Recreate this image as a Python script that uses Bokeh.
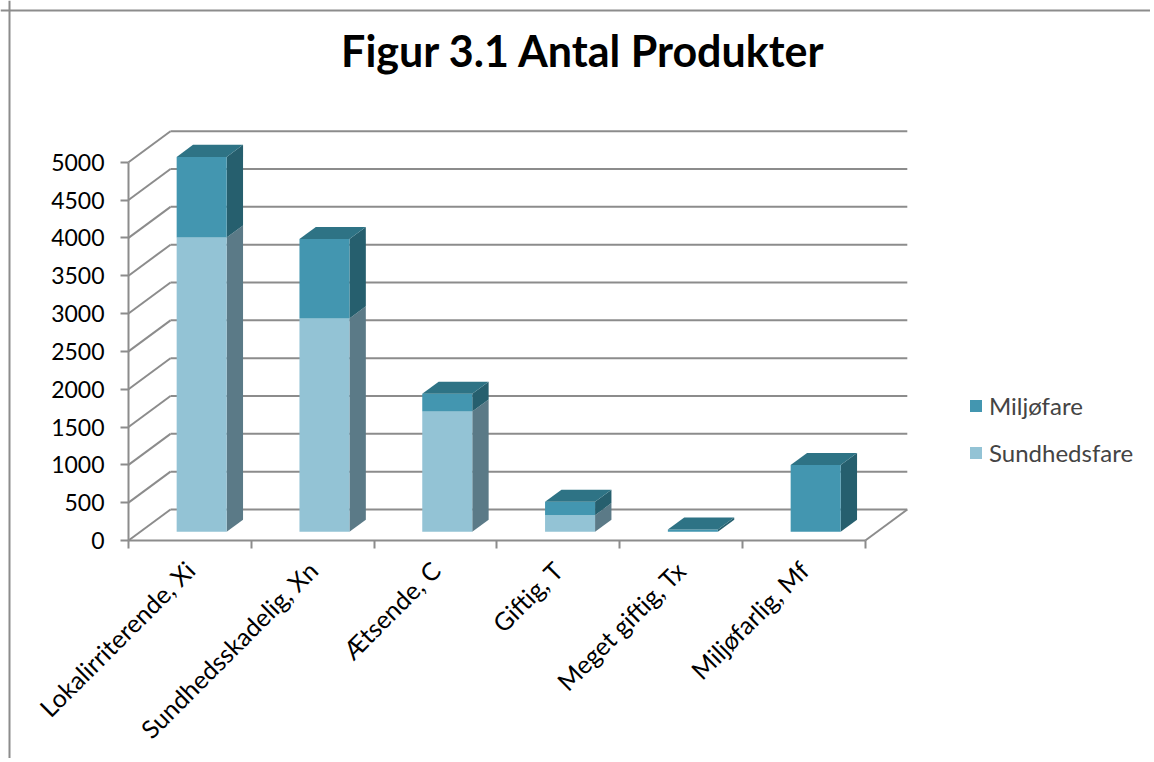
import math
from bokeh.plotting import figure
from bokeh.models import Range1d, LinearAxis, FixedTicker, Label, Legend, LegendItem, Span
from bokeh.embed import file_html
from bokeh.resources import INLINE

# ---------------- data ----------------
categories = ["Lokalirriterende, Xi", "Sundhedsskadelig, Xn", "Ætsende, C",
              "Giftig, T", "Meget giftig, Tx", "Miljøfarlig, Mf"]
sundhedsfare = [3890, 2820, 1590, 220, 0, 0]
miljofare = [1065, 1050, 235, 177, 30, 882]
y_ticks = [0, 500, 1000, 1500, 2000, 2500, 3000, 3500, 4000, 4500, 5000]
series_names = ["Miljøfare", "Sundhedsfare"]
title_text = "Figur 3.1 Antal Produkter"

# ---------------- layout geometry (pixels) ----------------
W, H = 1150, 758
AX_X = 128.0          # x of the front value axis
ZERO_Y = 540.0        # y of value 0 on the front axis
U = 122.8             # px per category
S = 378.3 / 5000.0    # px per value unit


def dx(px):
    return px / U


def dy(px):
    return px / S


x_range = Range1d((0 - AX_X) / U, (W - AX_X) / U)
y_range = Range1d((ZERO_Y - H) / S, ZERO_Y / S)

p = figure(width=W, height=H, x_range=x_range, y_range=y_range,
           x_axis_type=None, y_axis_type=None, toolbar_location=None,
           output_backend="svg", min_border=0, outline_line_color=None)
p.background_fill_color = "white"
p.border_fill_color = "white"

GRID = "#8c8c8c"
n = len(categories)
DX = dx(42)   # depth offset of back wall
DY = dy(31)

# chart area border (left / top)
p.add_layout(Span(location=(9 - AX_X) / U, dimension="height", line_color=GRID, line_width=2))
p.add_layout(Span(location=(ZERO_Y - 10) / S, dimension="width", line_color=GRID, line_width=2))

# back wall gridlines and side-wall diagonals
gx, gy = [], []
for v in y_ticks:
    gx.append([DX, n + DX]); gy.append([v + DY, v + DY])
    gx.append([0, DX]); gy.append([v, v + DY])
gx.append([n, n + DX]); gy.append([0, DY])
p.multi_line(gx, gy, line_color=GRID, line_width=2)

# ---------------- bars ----------------
F0 = 0.28     # depth fraction of bar front face
BD = 0.39     # bar depth fraction
BW = dx(50)   # bar width
base0 = F0 * DY
xc = [i + 0.5 + F0 * DX for i in range(n)]

S_FRONT, S_SIDE = "#93c3d5", "#5b7a87"
M_FRONT, M_SIDE, M_TOP = "#4396b0", "#265f6e", "#2e7385"

s_bottom = [base0] * n
s_top = [base0 + s for s in sundhedsfare]
m_bottom = s_top
m_top = [b + m for b, m in zip(m_bottom, miljofare)]

ox, oy = BD * DX, BD * DY


def side_faces(bottoms, tops):
    xs, ys = [], []
    for x, b, t in zip(xc, bottoms, tops):
        if t - b <= 0:
            continue
        xr = x + BW / 2
        xs.append([xr, xr + ox, xr + ox, xr])
        ys.append([b, b + oy, t + oy, t])
    return xs, ys


sx, sy = side_faces(s_bottom, s_top)
p.patches(sx, sy, fill_color=S_SIDE, line_color=None)
r_s = p.vbar(x=xc, width=BW, bottom=s_bottom, top=s_top, fill_color=S_FRONT, line_color=None)

mx, my = side_faces(m_bottom, m_top)
p.patches(mx, my, fill_color=M_SIDE, line_color=None)
r_m = p.vbar(x=xc, width=BW, bottom=m_bottom, top=m_top, fill_color=M_FRONT, line_color=None)

tx, ty = [], []
for x, t in zip(xc, m_top):
    xl, xr = x - BW / 2, x + BW / 2
    tx.append([xl, xr, xr + ox, xl + ox])
    ty.append([t, t, t + oy, t + oy])
p.patches(tx, ty, fill_color=M_TOP, line_color=None)

# ---------------- axes ----------------
yaxis = LinearAxis(fixed_location=0, bounds=(0, 5000), ticker=FixedTicker(ticks=y_ticks),
                   axis_line_color=GRID, axis_line_width=2,
                   major_tick_line_color=GRID, major_tick_line_width=2,
                   major_tick_out=8, major_tick_in=0, minor_tick_line_color=None,
                   major_label_text_font="Lato", major_label_text_font_size="23px",
                   major_label_text_color="black", major_label_standoff=16)
p.add_layout(yaxis, "left")

centers = [i + 0.5 for i in range(n)]
boundaries = list(range(n + 1))
xaxis = LinearAxis(fixed_location=0, bounds=(0, n),
                   ticker=FixedTicker(ticks=centers, minor_ticks=boundaries),
                   major_label_overrides={c: lab for c, lab in zip(centers, categories)},
                   major_label_orientation=math.pi / 4,
                   axis_line_color=GRID, axis_line_width=2,
                   major_tick_line_color=None, major_tick_out=0, major_tick_in=0,
                   minor_tick_line_color=GRID, minor_tick_line_width=2,
                   minor_tick_out=8, minor_tick_in=0,
                   major_label_standoff=17,
                   major_label_text_font="Lato", major_label_text_font_size="25px",
                   major_label_text_color="black")
p.add_layout(xaxis, "below")

# ---------------- title ----------------
p.add_layout(Label(x=(583 - AX_X) / U, y=(ZERO_Y - 50) / S, text=title_text,
                   text_align="center", text_baseline="middle",
                   text_font="Lato", text_font_style="bold", text_font_size="43px",
                   text_color="black"))

# ---------------- legend ----------------
legend = Legend(items=[LegendItem(label=series_names[0], renderers=[r_m]),
                       LegendItem(label=series_names[1], renderers=[r_s])],
                location=(968, 291), orientation="vertical",
                glyph_width=15, glyph_height=15, label_height=22,
                label_text_font="Lato", label_text_font_size="24px",
                label_standoff=6, spacing=18, padding=0, margin=0,
                border_line_color=None, background_fill_alpha=0)
p.add_layout(legend)

open("out.html", "w").write(file_html(p, INLINE))
